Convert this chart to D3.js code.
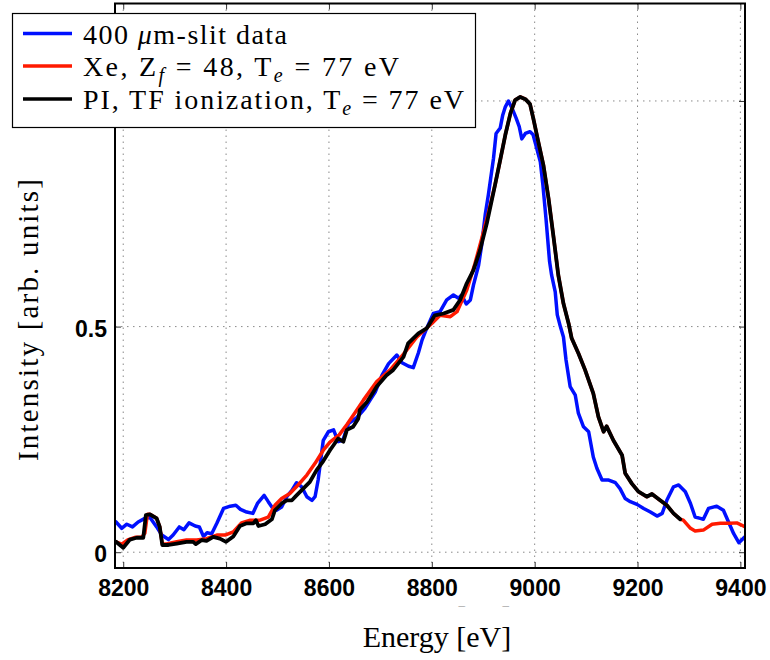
<!DOCTYPE html>
<html>
<head>
<meta charset="utf-8">
<script src="https://cdn.jsdelivr.net/npm/d3@7"></script>
<style>
  body { margin: 0; background: #fff; }
  svg { display: block; }
</style>
</head>
<body>
<script>
// tick values
const xTicks = [8200, 8400, 8600, 8800, 9000, 9200, 9400];
const yTicks = [0, 0.5, 1];

// 400 um slit measurement (blue)
const blueE = [8186, 8197, 8207, 8218, 8229, 8242, 8252, 8265, 8275, 8288, 8297, 8309, 8318, 8328, 8340, 8348, 8356, 8363, 8372, 8382, 8395, 8408, 8419, 8428, 8440, 8452, 8461, 8474, 8482, 8491, 8498, 8508, 8518, 8528, 8537, 8547, 8557, 8567, 8573, 8579, 8589, 8599, 8609, 8618, 8627, 8638, 8654, 8670, 8680, 8690, 8703, 8716, 8732, 8742, 8755, 8764, 8774, 8781, 8790, 8803, 8816, 8829, 8842, 8852, 8858, 8867, 8875, 8881, 8891, 8897, 8904, 8910, 8920, 8925, 8933, 8938, 8943, 8949, 8956, 8964, 8970, 8975, 8982, 8991, 8997, 9004, 9011, 9016, 9022, 9029, 9033, 9040, 9044, 9050, 9056, 9061, 9069, 9079, 9085, 9095, 9105, 9114, 9121, 9131, 9144, 9157, 9166, 9176, 9186, 9199, 9212, 9225, 9238, 9248, 9257, 9270, 9280, 9293, 9303, 9312, 9322, 9328, 9338, 9354, 9367, 9377, 9387, 9397, 9405, 9410];
const blueI = [0.067, 0.053, 0.062, 0.056, 0.067, 0.075, 0.077, 0.056, 0.038, 0.028, 0.038, 0.056, 0.050, 0.065, 0.058, 0.056, 0.035, 0.043, 0.041, 0.064, 0.097, 0.102, 0.104, 0.095, 0.089, 0.086, 0.108, 0.126, 0.112, 0.097, 0.093, 0.100, 0.123, 0.137, 0.154, 0.145, 0.123, 0.115, 0.123, 0.160, 0.248, 0.267, 0.271, 0.245, 0.248, 0.285, 0.298, 0.319, 0.337, 0.355, 0.392, 0.418, 0.437, 0.420, 0.412, 0.409, 0.442, 0.470, 0.496, 0.529, 0.533, 0.559, 0.570, 0.563, 0.570, 0.550, 0.559, 0.592, 0.636, 0.681, 0.749, 0.792, 0.873, 0.928, 0.940, 0.969, 0.987, 1.000, 0.984, 0.962, 0.943, 0.916, 0.928, 0.932, 0.925, 0.895, 0.865, 0.814, 0.740, 0.644, 0.614, 0.577, 0.526, 0.500, 0.477, 0.426, 0.367, 0.348, 0.308, 0.278, 0.267, 0.211, 0.186, 0.160, 0.160, 0.154, 0.141, 0.119, 0.112, 0.106, 0.097, 0.089, 0.080, 0.086, 0.115, 0.145, 0.149, 0.134, 0.108, 0.078, 0.075, 0.073, 0.097, 0.102, 0.093, 0.067, 0.041, 0.021, 0.030, 0.035];

// Xe, Zf = 48 model (red)
const redE = [8186, 8197, 8210, 8223, 8236, 8242, 8247, 8252, 8265, 8271, 8276, 8284, 8304, 8323, 8343, 8362, 8382, 8398, 8414, 8430, 8447, 8466, 8482, 8495, 8508, 8524, 8540, 8557, 8573, 8589, 8602, 8620, 8635, 8650, 8667, 8693, 8719, 8745, 8771, 8800, 8816, 8836, 8849, 8868, 8884, 8897, 8910, 8923, 8933, 8943, 8953, 8962, 8972, 8982, 8991, 8998, 9007, 9017, 9027, 9037, 9046, 9056, 9066, 9072, 9085, 9098, 9114, 9124, 9134, 9140, 9153, 9170, 9176, 9189, 9202, 9218, 9228, 9244, 9257, 9270, 9283, 9289, 9303, 9312, 9328, 9345, 9361, 9380, 9393, 9406, 9410];
const redI = [0.023, 0.018, 0.028, 0.033, 0.033, 0.042, 0.084, 0.084, 0.075, 0.056, 0.018, 0.018, 0.023, 0.027, 0.027, 0.030, 0.038, 0.038, 0.045, 0.065, 0.071, 0.071, 0.078, 0.104, 0.119, 0.130, 0.149, 0.171, 0.197, 0.226, 0.244, 0.260, 0.283, 0.308, 0.337, 0.378, 0.404, 0.439, 0.477, 0.507, 0.525, 0.522, 0.533, 0.581, 0.640, 0.695, 0.752, 0.814, 0.869, 0.925, 0.973, 1.002, 1.009, 1.004, 0.993, 0.958, 0.910, 0.858, 0.784, 0.696, 0.614, 0.551, 0.507, 0.474, 0.441, 0.404, 0.352, 0.300, 0.267, 0.279, 0.248, 0.215, 0.175, 0.152, 0.134, 0.123, 0.129, 0.115, 0.104, 0.086, 0.073, 0.071, 0.053, 0.047, 0.049, 0.062, 0.064, 0.064, 0.065, 0.058, 0.056];

// PI, TF ionization model (black)
const blackE = [8186, 8200, 8213, 8226, 8239, 8244, 8252, 8265, 8271, 8276, 8288, 8304, 8323, 8336, 8341, 8353, 8362, 8375, 8388, 8400, 8414, 8427, 8440, 8453, 8458, 8463, 8476, 8489, 8495, 8508, 8518, 8528, 8537, 8550, 8563, 8576, 8589, 8602, 8618, 8628, 8635, 8647, 8657, 8660, 8674, 8693, 8712, 8725, 8745, 8754, 8774, 8790, 8806, 8823, 8842, 8855, 8868, 8881, 8894, 8907, 8923, 8933, 8943, 8953, 8962, 8972, 8982, 8991, 8998, 9007, 9017, 9027, 9037, 9046, 9056, 9066, 9072, 9085, 9098, 9114, 9124, 9134, 9140, 9153, 9170, 9176, 9189, 9202, 9218, 9228, 9244, 9257, 9270, 9283];
const blackI = [0.023, 0.010, 0.028, 0.032, 0.032, 0.082, 0.084, 0.075, 0.056, 0.016, 0.016, 0.019, 0.023, 0.023, 0.018, 0.027, 0.025, 0.034, 0.030, 0.023, 0.035, 0.058, 0.064, 0.064, 0.071, 0.058, 0.062, 0.073, 0.093, 0.108, 0.115, 0.115, 0.126, 0.141, 0.156, 0.182, 0.202, 0.226, 0.252, 0.245, 0.271, 0.278, 0.296, 0.315, 0.333, 0.367, 0.392, 0.404, 0.433, 0.463, 0.485, 0.496, 0.525, 0.529, 0.537, 0.559, 0.596, 0.625, 0.670, 0.729, 0.814, 0.869, 0.925, 0.973, 1.002, 1.009, 1.004, 0.993, 0.958, 0.910, 0.858, 0.784, 0.696, 0.614, 0.551, 0.507, 0.474, 0.441, 0.404, 0.352, 0.300, 0.267, 0.279, 0.248, 0.215, 0.175, 0.152, 0.134, 0.123, 0.129, 0.115, 0.104, 0.086, 0.073];

const W = 770, H = 660;
const plot = {left: 115, right: 745, top: 3.5, bottom: 568};

const svg = d3.select("body").append("svg")
    .attr("width", W)
    .attr("height", H);

const x = d3.scaleLinear().domain([8184, 9409]).range([plot.left, plot.right]);
const y = d3.scaleLinear().domain([-0.035, 1.216]).range([plot.bottom, plot.top]);

svg.append("defs").append("clipPath").attr("id", "plotClip")
  .append("rect")
    .attr("x", plot.left).attr("y", plot.top)
    .attr("width", plot.right - plot.left).attr("height", plot.bottom - plot.top);

svg.select("defs").append("clipPath").attr("id", "ghostClip")
  .append("rect")
    .attr("x", 300).attr("y", 604)
    .attr("width", 260).attr("height", 3);

// dotted grid
const grid = svg.append("g").attr("stroke", "#8a8a8a").attr("stroke-width", 1)
    .attr("stroke-dasharray", "1.5,4.5");
grid.selectAll("line.v").data(xTicks).join("line")
    .attr("class", "v")
    .attr("x1", d => x(d)).attr("x2", d => x(d))
    .attr("y1", plot.top).attr("y2", plot.bottom);
grid.selectAll("line.h").data(yTicks).join("line")
    .attr("class", "h")
    .attr("x1", plot.left).attr("x2", plot.right)
    .attr("y1", d => y(d)).attr("y2", d => y(d));

// axes, ticks pointing in
const tickFont = g => g.selectAll("text")
    .attr("font-family", "'Liberation Sans', Arial, sans-serif")
    .attr("font-weight", "bold")
    .attr("font-size", 23)
    .attr("fill", "#000");

svg.append("g")
    .attr("transform", `translate(0,${plot.bottom})`)
    .call(d3.axisBottom(x).tickValues(xTicks).tickSize(-6).tickPadding(12).tickFormat(d3.format("d")))
    .call(g => g.select(".domain").remove())
    .call(tickFont);

svg.append("g")
    .attr("transform", `translate(0,${plot.top})`)
    .call(d3.axisTop(x).tickValues(xTicks).tickSize(-6).tickFormat(""))
    .call(g => g.select(".domain").remove());

svg.append("g")
    .attr("transform", `translate(${plot.left},0)`)
    .call(d3.axisLeft(y).tickValues(yTicks).tickSize(-6).tickPadding(8).tickFormat(d => d === 0.5 ? "0.5" : d3.format("d")(d)))
    .call(g => g.select(".domain").remove())
    .call(tickFont)
    .call(g => g.selectAll("text").attr("dy", "0.42em"));

svg.append("g")
    .attr("transform", `translate(${plot.right},0)`)
    .call(d3.axisRight(y).tickValues(yTicks).tickSize(-6).tickFormat(""))
    .call(g => g.select(".domain").remove());

svg.selectAll(".tick line").attr("stroke", "#333");

// curves
const line = d3.line()
    .x(d => x(d[0]))
    .y(d => y(d[1]));

const series = [
  {name: "blue", E: blueE, I: blueI, color: "#0010ff", w: 3.5},
  {name: "red", E: redE, I: redI, color: "#ff1a00", w: 3.5},
  {name: "black", E: blackE, I: blackI, color: "#000", w: 3.8}
];

svg.append("g").attr("clip-path", "url(#plotClip)")
  .selectAll("path").data(series).join("path")
    .attr("d", s => line(s.E.map((e, i) => [e, s.I[i]])))
    .attr("fill", "none")
    .attr("stroke", s => s.color)
    .attr("stroke-width", s => s.w)
    .attr("stroke-linejoin", "round")
    .attr("stroke-linecap", "round");

// frame
svg.append("rect")
    .attr("x", plot.left).attr("y", plot.top)
    .attr("width", plot.right - plot.left).attr("height", plot.bottom - plot.top)
    .attr("fill", "none").attr("stroke", "#000").attr("stroke-width", 2);

// axis labels
const serif = "'Liberation Serif', 'Times New Roman', serif";

// faint leftover of the label, only its top edge peeks out under the tick labels
svg.append("text")
    .attr("clip-path", "url(#ghostClip)")
    .attr("x", 437).attr("y", 625.5)
    .attr("text-anchor", "middle")
    .attr("font-family", serif).attr("font-size", 30)
    .attr("fill", "#b8b8b8")
    .text("Energy [eV]");

svg.append("text")
    .attr("x", 437).attr("y", 647)
    .attr("text-anchor", "middle")
    .attr("font-family", serif).attr("font-size", 30)
    .text("Energy [eV]");

svg.append("text")
    .attr("transform", "translate(38,320) rotate(-90)")
    .attr("text-anchor", "middle")
    .attr("font-family", serif).attr("font-size", 29)
    .attr("textLength", 282).attr("lengthAdjust", "spacing")
    .text("Intensity [arb. units]");

// legend
const legend = svg.append("g");
legend.append("rect")
    .attr("x", 12.5).attr("y", 13.5)
    .attr("width", 463).attr("height", 114)
    .attr("fill", "#fff").attr("stroke", "#000").attr("stroke-width", 1.2);

const rows = [
  {color: series[0].color, ly: 33.5, parts: [["400 "], ["μ", "it"], ["m-slit data"]], len: 204},
  {color: series[1].color, ly: 66, parts: [["Xe, Z"], ["f", "sub"], [" = 48, T"], ["e", "sub"], [" = 77 eV"]], len: 316},
  {color: series[2].color, ly: 99, parts: [["PI, TF ionization, T"], ["e", "sub"], [" = 77 eV"]], len: 381}
];

rows.forEach(r => {
  legend.append("line")
      .attr("x1", 23).attr("x2", 72)
      .attr("y1", r.ly).attr("y2", r.ly)
      .attr("stroke", r.color).attr("stroke-width", 3.5);
  const t = legend.append("text")
      .attr("x", 83).attr("y", r.ly + 10)
      .attr("font-family", serif).attr("font-size", 28)
      .attr("textLength", r.len).attr("lengthAdjust", "spacing");
  let shifted = false;
  r.parts.forEach(p => {
    const ts = t.append("tspan").text(p[0]);
    if (p[1] === "it") ts.attr("font-style", "italic");
    if (p[1] === "sub") {
      ts.attr("font-style", "italic").attr("font-size", 20).attr("dy", 6);
      shifted = true;
    } else if (shifted) {
      ts.attr("dy", -6);
      shifted = false;
    }
  });
});
</script>
</body>
</html>
